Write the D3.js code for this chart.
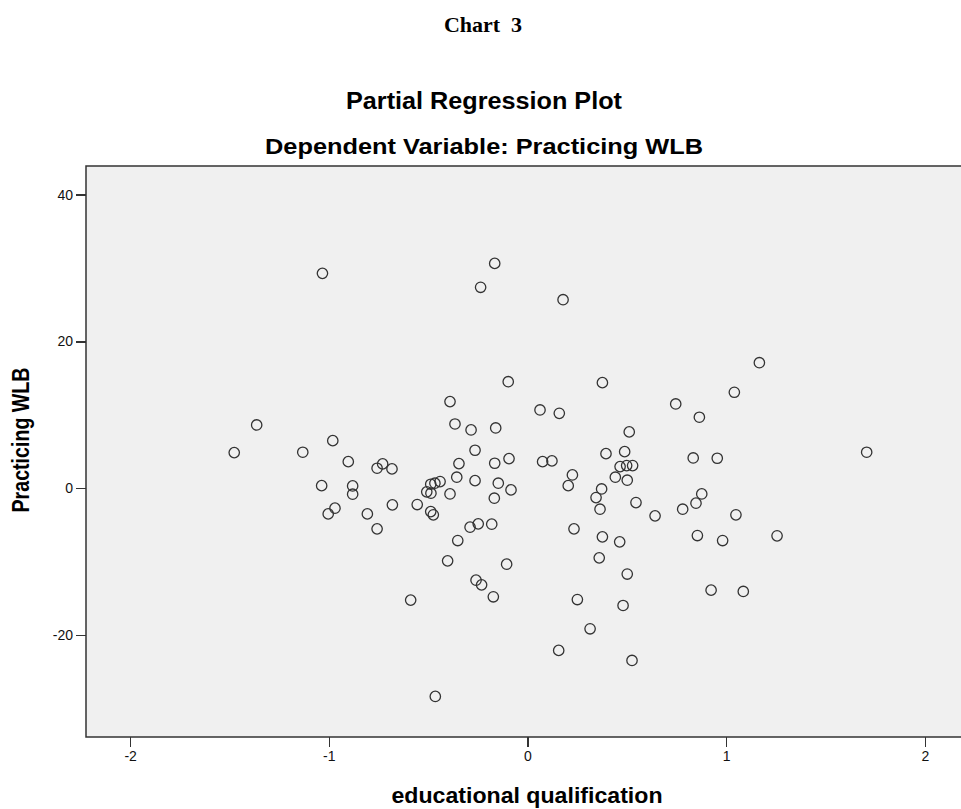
<!DOCTYPE html>
<html lang="en">
<head>
    <meta charset="UTF-8">
    <title>Partial Regression Plot</title>
    <script src="https://cdn.jsdelivr.net/npm/d3@7/dist/d3.min.js"></script>
    <style>
        body { margin: 0; background: #fff; }
        .axis path { display: none; }
        .axis line { stroke: #333; stroke-width: 1.3; shape-rendering: crispEdges; }
        .axis text { font-family: "Liberation Sans", Arial, sans-serif; font-size: 14px; fill: #111; }
        .title { font-family: "Liberation Sans", Arial, sans-serif; font-weight: bold; fill: #000; text-anchor: middle; }
        .dot { fill: none; stroke: #333; stroke-width: 1.3; }
    </style>
</head>
<body>
<script>
	// data
	var xValues = [-1.032, -1.363, -0.980, -1.476, -1.131, -0.902, -0.757, -0.729, -0.682, -1.036,
		-0.880, -0.880, -0.969, -1.003, -0.806, -0.757, -0.390, 0.063, 0.160, -0.365,
		-0.284, -0.160, 0.512, -0.264, 0.395, 0.489, -0.345, -0.165, -0.093, 0.076,
		0.123, 0.226, 0.466, 0.499, 0.529, -0.440, -0.466, -0.487, -0.507, -0.486,
		-0.356, -0.264, -0.147, -0.083, -0.390, -0.167, 0.442, 0.502, 0.205, 0.373,
		0.345, 0.365, 0.546, 0.642, -0.680, -0.555, -0.487, -0.474, -0.289, -0.248,
		-0.180, -0.351, 0.234, 0.377, 0.464, -0.402, -0.105, 0.361, 0.502, -0.259,
		-0.231, -0.172, -0.588, 0.251, 0.481, 0.315, 0.157, 0.526, -0.464, -0.165,
		-0.236, 0.179, -0.097, 0.377, 1.167, 1.041, 0.746, 0.865, 1.707, 0.834,
		0.955, 0.877, 0.848, 0.781, 1.049, 0.855, 0.982, 1.256, 0.924, 1.086];
	var yValues = [29.27, 8.62, 6.48, 4.85, 4.90, 3.62, 2.72, 3.31, 2.63, 0.35,
		0.31, -0.82, -2.72, -3.50, -3.50, -5.54, 11.8, 10.66, 10.2, 8.75,
		7.94, 8.21, 7.67, 5.17, 4.71, 4.98, 3.35, 3.40, 4.03, 3.62,
		3.72, 1.81, 2.94, 3.08, 3.08, 0.90, 0.68, 0.54, -0.50, -0.68,
		1.50, 1.03, 0.68, -0.23, -0.78, -1.36, 1.50, 1.09, 0.35, -0.10,
		-1.28, -2.86, -1.96, -3.77, -2.27, -2.23, -3.19, -3.63, -5.31, -4.86,
		-4.90, -7.13, -5.54, -6.63, -7.31, -9.90, -10.35, -9.49, -11.7, -12.53,
		-13.17, -14.80, -15.25, -15.17, -15.98, -19.16, -22.1, -23.47, -28.37, 30.63,
		27.37, 25.68, 14.51, 14.38, 17.1, 13.07, 11.48, 9.67, 4.90, 4.12,
		4.08, -0.78, -2.04, -2.86, -3.63, -6.45, -7.13, -6.49, -13.89, -14.07];
	var xTicks = [-2, -1, 0, 1, 2];
	var yTicks = [-20, 0, 20, 40];
	var xDomain = [-2.222, 2.222];
	var yDomain = [-33.9, 43.9];

	var width = 961, height = 809;
	var plot = {left: 86, top: 166, right: 969, bottom: 737};

	var svg = d3.select("body")
		.append("svg")
		.attr("width", width)
		.attr("height", height);

	var xScale = d3.scaleLinear().domain(xDomain).range([plot.left, plot.right]);
	var yScale = d3.scaleLinear().domain(yDomain).range([plot.bottom, plot.top]);

	// plain hyphen for negatives, as in the original
	var fmt = function (d) { return String(d); };

	// titles
	svg.append("text")
		.attr("x", 483).attr("y", 32)
		.attr("text-anchor", "middle")
		.style("font-family", "'Liberation Serif', 'Times New Roman', serif")
		.style("font-weight", "bold")
		.style("font-size", "22px")
		.style("white-space", "pre")
		.text("Chart  3");

	svg.append("text")
		.attr("class", "title")
		.attr("x", 484).attr("y", 109)
		.attr("font-size", 23)
		.attr("textLength", 276)
		.attr("lengthAdjust", "spacingAndGlyphs")
		.text("Partial Regression Plot");

	svg.append("text")
		.attr("class", "title")
		.attr("x", 484).attr("y", 154)
		.attr("font-size", 22)
		.attr("textLength", 438)
		.attr("lengthAdjust", "spacingAndGlyphs")
		.text("Dependent Variable: Practicing WLB");

	// plot area
	svg.append("rect")
		.attr("x", plot.left).attr("y", plot.top)
		.attr("width", plot.right - plot.left)
		.attr("height", plot.bottom - plot.top)
		.attr("fill", "#f0f0f0")
		.attr("stroke", "#333")
		.attr("stroke-width", 1.5);

	// axes
	var xAxis = d3.axisBottom(xScale).tickValues(xTicks).tickFormat(fmt).tickSize(10).tickPadding(4);
	var yAxis = d3.axisLeft(yScale).tickValues(yTicks).tickFormat(fmt).tickSize(10).tickPadding(3);

	svg.append("g")
		.attr("class", "axis")
		.attr("transform", "translate(0," + plot.bottom + ")")
		.call(xAxis);

	svg.append("g")
		.attr("class", "axis")
		.attr("transform", "translate(" + plot.left + ",0)")
		.call(yAxis);

	// points
	svg.selectAll(".dot")
		.data(xValues)
		.enter()
		.append("circle")
		.attr("class", "dot")
		.attr("cx", function (d) { return xScale(d); })
		.attr("cy", function (d, i) { return yScale(yValues[i]); })
		.attr("r", 5.2);

	// axis titles
	svg.append("text")
		.attr("class", "title")
		.attr("x", 527).attr("y", 803)
		.attr("font-size", 22)
		.attr("textLength", 271)
		.attr("lengthAdjust", "spacingAndGlyphs")
		.text("educational qualification");

	svg.append("text")
		.attr("class", "title")
		.attr("transform", "translate(29,440) scale(1.15,1) rotate(-90)")
		.attr("font-size", 21)
		.attr("textLength", 145)
		.attr("lengthAdjust", "spacingAndGlyphs")
		.text("Practicing WLB");
</script>
</body>
</html>
